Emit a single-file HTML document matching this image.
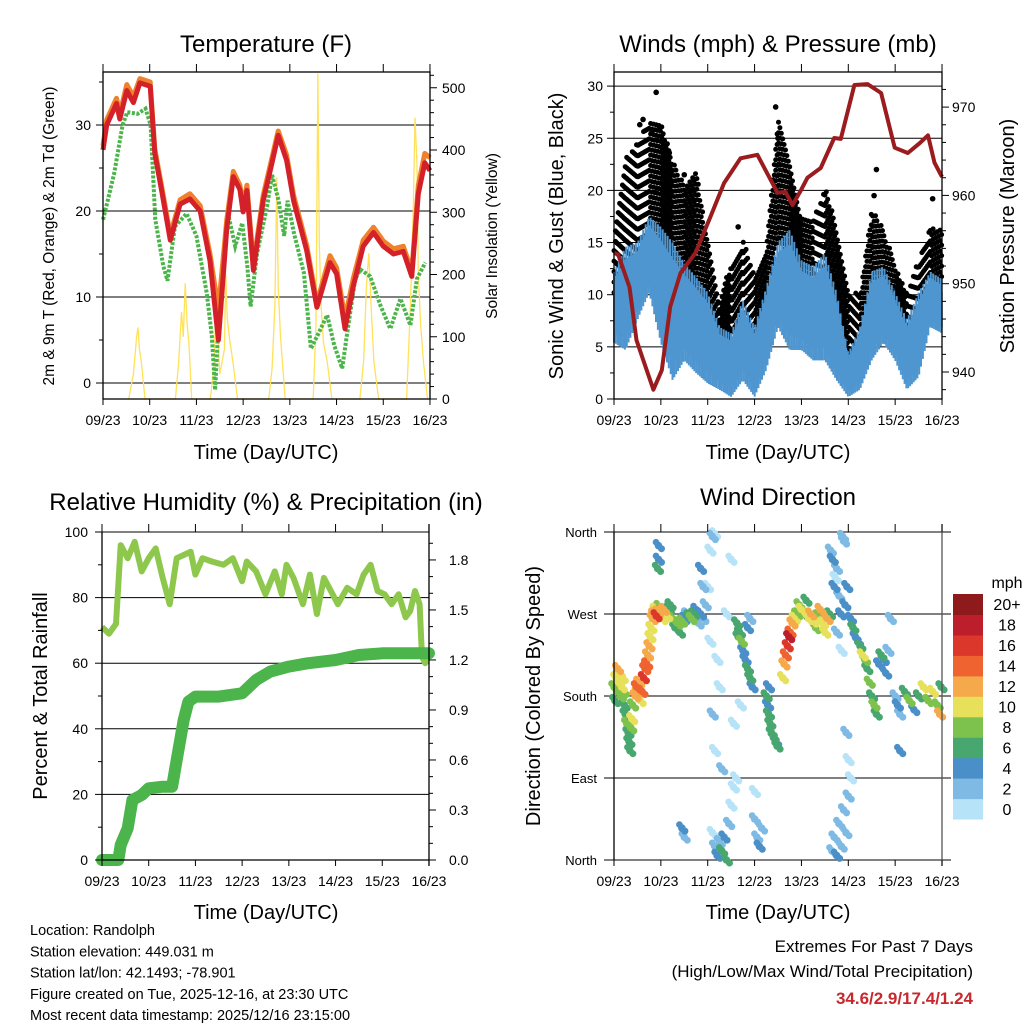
<!DOCTYPE html>
<html><head><meta charset="utf-8"><style>
html,body{margin:0;padding:0;background:#fff;}
svg{display:block;font-family:"Liberation Sans",Arial,sans-serif;}
</style></head><body>
<svg id="c" width="1024" height="1024" viewBox="0 0 1024 1024" xmlns="http://www.w3.org/2000/svg"></svg>
<script>
// ---------- DATA ----------
const days = ["09/23","10/23","11/23","12/23","13/23","14/23","15/23","16/23"];
// Temperature (F)
const tT = [0,0.08,0.29,0.36,0.51,0.65,0.79,1.01,1.11,1.26,1.44,1.65,1.86,2.08,2.29,2.47,2.65,2.79,2.93,3.0,3.08,3.22,3.43,3.61,3.75,3.93,4.08,4.36,4.58,4.86,5.0,5.18,5.36,5.57,5.79,6.0,6.22,6.43,6.61,6.75,6.89,7.0];
const tRed = [27.1,30.0,32.5,30.7,34.0,32.6,34.9,34.5,26.7,22.2,16.6,20.8,21.4,20.0,14.2,5.0,18.0,24.0,22.5,19.9,22.4,13.1,21.2,25.4,28.8,25.9,21.2,15.4,8.8,14.0,12.7,6.3,11.3,15.9,17.5,15.9,15.0,15.3,12.4,22.0,25.6,24.7];
const tOrange = [27.6,30.6,33.1,31.3,34.7,33.3,35.4,35.0,27.2,22.7,17.2,21.3,22.0,20.6,15.0,8.5,19.0,24.6,23.0,20.5,23.0,13.8,21.8,26.0,29.3,26.5,21.8,16.0,9.3,14.8,13.4,7.5,12.2,16.6,18.1,16.5,15.6,15.9,13.0,23.0,26.7,26.2];
const tdT = [0,0.1,0.24,0.42,0.52,0.74,0.91,1.02,1.12,1.29,1.38,1.54,1.79,2.0,2.22,2.33,2.4,2.51,2.69,2.83,2.98,3.09,3.16,3.3,3.51,3.62,3.76,3.88,3.95,4.09,4.3,4.45,4.59,4.8,4.95,5.12,5.22,5.4,5.51,5.72,5.94,6.15,6.37,6.58,6.72,6.9];
const tdV = [19,21.2,24.4,30,31.5,31.3,31.9,30,19,13.6,11.9,18.2,19.7,17.1,10.5,5.5,-0.8,10.5,19.4,15.9,18.6,13.6,8.9,15.1,20.5,24.2,21.2,17.1,21.2,17.4,12.8,4.0,5.5,7.9,4.4,1.7,5.5,12.1,13.2,12.4,9.0,6.3,9.8,6.7,12.1,14.0];
const solT = [0.55,0.65,0.72,0.75,0.78,0.82,0.9, 1.55,1.62,1.68,1.72,1.76,1.8,1.84,1.9, 2.3,2.38,2.42,2.5,2.6,2.63,2.66,2.72,2.78,2.88, 3.55,3.62,3.68,3.72,3.75,3.8,3.9, 4.5,4.56,4.6,4.63,4.67,4.72,4.8,4.9, 5.5,5.58,5.64,5.69,5.74,5.8,5.9, 6.5,6.58,6.64,6.68,6.72,6.75,6.8,6.86,6.95];
const solV = [0,40,100,115,80,60,0, 0,60,140,100,186,120,90,0, 0,60,160,40,80,200,130,90,60,0, 0,50,150,356,180,100,0, 0,120,523,250,150,90,60,0, 0,60,180,234,150,60,0, 0,150,300,452,380,200,120,60,0];
// Winds
const wT = [0,0.25,0.5,0.75,1.0,1.25,1.5,1.75,2.0,2.25,2.5,2.75,3.0,3.25,3.5,3.75,4.0,4.25,4.5,4.75,5.0,5.25,5.5,5.75,6.0,6.25,6.5,6.75,7.0];
const windHi = [12.2,14.6,15,17.5,16.5,15,13,11.7,10.2,6.9,6.3,9.5,6.9,10.7,15,16.2,13.3,12.7,14,10.2,4.4,6.9,12.2,12.7,10.2,7.6,10.2,12.2,11.5];
const windLo = [5.4,4.7,7.6,10.2,5.4,1.8,3.7,2.5,1.5,0.9,0.2,1.8,0.2,2.8,6.9,4.7,4.7,3.7,3.7,1.8,0.2,0.9,3.7,5.4,3.7,0.9,2.1,6.9,6.3];
const gustHi = [15.2,23.2,24.5,26.7,26.5,23,20.4,22,15.2,9.5,13.3,15.2,12.2,14.6,27.4,23,17.5,17,20.4,16.5,10.2,10.2,18.4,16.5,12.7,10.2,13.3,16.5,16.2];
const gustLo = [10.2,11.7,13.3,16.5,14.6,11.7,10.2,10.2,8.2,4.4,3.7,8.2,3.7,8.8,15.2,13.3,10.2,8.2,10.2,6.9,3.7,5,11.7,10.2,8.2,5.4,7.6,11.7,10.7];
const gustOutT = [0.9,0.55,0.62,0.8,0.97,1.18,3.45,3.5,3.52,5.55,5.6,1.5,2.65,6.8];
const gustOutV = [29.4,26.3,26.8,25.5,26,23.6,28,25,22.5,19.5,22,21.5,16.5,19.2];
const pT = [0,0.09,0.33,0.48,0.62,0.84,1.02,1.2,1.42,1.74,2.06,2.35,2.7,3.06,3.49,3.66,3.81,3.99,4.13,4.41,4.7,4.84,5.13,5.41,5.7,5.99,6.27,6.52,6.7,6.84,7.0];
const pV = [953.5,953.3,949.6,943.6,941.4,938,940.2,947.4,951.2,953.5,957.6,961.4,964.2,964.6,960.3,960.4,958.9,960.6,962,963.1,966.5,966.4,972.5,972.6,971.6,965.4,964.8,965.9,966.8,963.7,962.1];
// Relative humidity & precipitation
const rhT = [0,0.15,0.3,0.4,0.55,0.7,0.85,1.0,1.15,1.3,1.45,1.6,1.75,1.9,2.0,2.15,2.35,2.6,2.8,3.0,3.1,3.3,3.5,3.7,3.85,3.95,4.1,4.3,4.45,4.6,4.75,4.9,5.05,5.25,5.45,5.6,5.75,5.9,6.05,6.2,6.35,6.5,6.6,6.7,6.8,6.85,6.92,7.0];
const rhV = [71,69,72,96,92,97,88,92,95,86,78,92,93,94,87,92,91,90,92,85,91,88,81,88,81,90,86,78,87,75,86,82,78,83,81,87,90,82,81,78,81,74,76,82,78,62,60,63];
const prT = [0,0.35,0.4,0.55,0.65,0.85,1.0,1.3,1.5,1.6,1.75,1.85,2.0,2.5,3.0,3.3,3.6,4.0,4.4,5.0,5.5,6.0,7.0];
const prV = [0,0,0.09,0.19,0.36,0.39,0.43,0.44,0.44,0.6,0.84,0.95,0.98,0.98,1.0,1.08,1.13,1.16,1.18,1.2,1.23,1.24,1.24];
// Wind direction
const dirT = [0.0,0.02,0.04,0.06,0.08,0.1,0.12,0.14,0.16,0.18,0.2,0.22,0.24,0.27,0.3,0.32,0.34,0.36,0.38,0.4,0.45,0.48,0.5,0.53,0.56,0.6,0.63,0.66,0.7,0.72,0.75,0.77,0.79,0.82,0.85,0.88,0.9,0.93,0.96,1.0,1.03,1.06,1.1,1.13,1.16,1.2,1.25,0.95,0.95,0.93,1.3,1.35,1.4,1.45,1.5,1.55,1.6,1.65,1.7,1.75,1.8,1.85,1.9,1.95,2.0,2.05,2.1,2.15,1.85,1.9,2.05,2.1,2.15,2.2,2.25,2.3,2.4,2.5,2.55,2.6,2.7,2.1,2.15,2.2,2.25,2.3,2.35,2.4,2.45,2.5,2.55,1.45,1.5,3.0,3.05,3.1,3.15,3.0,2.62,2.65,2.68,2.72,2.75,2.8,2.85,2.9,2.95,2.85,2.9,3.25,3.28,3.3,3.33,3.36,3.4,3.45,3.48,3.3,3.6,3.63,3.66,3.7,3.73,3.76,3.8,3.85,3.9,3.95,4.0,4.05,4.1,4.15,4.2,4.25,4.3,4.35,4.4,4.45,4.5,4.55,4.6,4.62,4.66,4.7,4.72,4.75,4.8,4.84,4.88,4.9,4.93,4.97,4.75,4.85,4.65,4.7,4.75,4.8,4.85,4.9,4.95,5.0,5.05,5.0,4.95,5.05,5.1,5.15,5.2,5.25,5.3,5.35,5.4,5.45,5.5,5.55,5.6,5.65,5.7,5.75,5.8,5.85,5.9,6.0,6.05,6.1,6.2,6.3,6.4,6.5,6.6,6.7,6.8,6.9,6.95,6.98,6.1];
const dirDeg = [190,175,200,185,210,195,205,180,190,200,185,170,160,150,140,130,120,145,155,170,180,190,185,195,175,185,200,210,215,225,235,245,255,265,270,275,268,272,278,270,265,275,272,268,275,280,265,345,330,320,255,260,250,262,265,270,268,265,270,275,260,270,265,280,300,340,355,358,320,300,240,160,120,220,190,100,270,330,150,90,170,30,15,5,20,10,25,0,40,60,80,35,25,45,25,15,35,75,260,245,250,240,230,220,210,200,190,255,265,180,170,160,150,140,135,130,125,190,200,215,225,235,245,250,260,265,270,280,275,270,285,265,270,262,255,268,275,260,250,265,270,340,330,300,310,320,290,270,355,350,280,300,250,230,10,25,5,40,15,55,30,70,90,110,140,265,255,245,240,235,225,220,210,195,180,170,160,215,225,220,205,230,265,180,170,160,185,175,165,180,190,175,185,170,160,190,120];
const dirSpd = [8,7,10,9,12,11,10,9,10,11,8,7,7,8,7,6,6,9,10,9,13,14,12,13,10,15,16,14,15,13,12,11,10,12,13,11,16,12,9,10,11,12,8,10,7,6,8,4,4,6,6,8,6,9,4,3,6,8,7,4,2,5,3,2,1,1,2,1,4,2,1,2,1,0,1,2,1,1,0,1,1,1,3,4,2,6,5,6,2,1,1,4,2,3,2,4,3,1,7,7,6,8,5,4,6,7,5,4,3,6,5,6,7,6,6,5,7,4,10,12,14,16,18,14,12,10,9,8,10,7,6,11,12,10,9,8,12,10,11,13,7,2,4,4,1,3,3,4,3,2,5,4,2,1,3,2,4,2,2,2,3,2,1,1,3,4,6,5,4,7,10,9,7,8,7,8,6,5,6,4,4,3,2,3,4,2,6,8,5,7,10,9,11,8,12,6,4];
const cbLabels = ["0","2","4","6","8","10","12","14","16","18","20+"];
const cbColors = ["#b6e3f8","#7ebae3","#4a8fc7","#48a66f","#7dc24d","#e6e05b","#f6a94a","#ef6330","#dc372b","#bd1e2b","#8e1a1b"];

// ---------- HELPERS ----------
const svg = document.getElementById('c');
const NS = 'http://www.w3.org/2000/svg';
function mk(tag, attrs, parent){ const e=document.createElementNS(NS,tag); for(const k in attrs) e.setAttribute(k,attrs[k]); (parent||svg).appendChild(e); return e; }
function txt(s,x,y,size,anchor,parent,extra){ const e=mk('text',Object.assign({x:x,y:y,'font-size':size,'text-anchor':anchor||'middle',fill:'#000'},extra||{}),parent); e.textContent=s; return e; }
function interp(ts,vs,t){ if(t<=ts[0]) return vs[0]; for(let i=1;i<ts.length;i++){ if(t<=ts[i]){ const f=(t-ts[i-1])/(ts[i]-ts[i-1]); return vs[i-1]+f*(vs[i]-vs[i-1]); } } return vs[vs.length-1]; }
function pts(ts,vs,fx,fy){ return ts.map((t,i)=>fx(t).toFixed(1)+','+fy(vs[i]).toFixed(1)).join(' '); }
function spdColor(s){ let i=Math.floor(s/2); if(i<0)i=0; if(i>10)i=10; return cbColors[i]; }
function xAxis(g,fx,yb,ytop){
  days.forEach((d,i)=>{
    const x=fx(i);
    mk('line',{x1:x,y1:yb,x2:x,y2:yb+6,stroke:'#000','stroke-width':1},g);
    mk('line',{x1:x,y1:ytop,x2:x,y2:ytop-8,stroke:'#000','stroke-width':1},g);
    const t=txt(d,x,yb+26,14,'middle',g);
    
    
  });
}

// ---------- PANEL 1: TEMPERATURE ----------
(function(){
  const g=mk('g',{});  
  const L=103,R=430,T=72,B=399;
  const fx=d=>L+d*46.71, fy=v=>383-v*8.6, fs=v=>399-v*0.6225;
  [0,10,20,30].forEach(v=>mk('line',{x1:L,x2:R,y1:fy(v),y2:fy(v),stroke:'#000','stroke-width':1},g));
  const sol=mk('polyline',{points:pts(solT,solV,fx,fs),fill:'none',stroke:'#ffe15a','stroke-width':1.3},g);
   
  const td=mk('polyline',{points:pts(tdT,tdV,fx,fy),fill:'none',stroke:'#4bb44a','stroke-width':4,'stroke-dasharray':'3 1.6'},g);
   
  const o=mk('polyline',{points:pts(tT,tOrange,fx,fy),fill:'none',stroke:'#f0812c','stroke-width':5,'stroke-linejoin':'round'},g);
   
  const r=mk('polyline',{points:pts(tT,tRed,fx,fy),fill:'none',stroke:'#d42028','stroke-width':5,'stroke-linejoin':'round'},g);
   
  mk('rect',{x:L,y:T,width:R-L,height:B-T,fill:'none',stroke:'#000','stroke-width':1.3},g);
  for(let v=-0;v<=35;v+=5){ const y=fy(v); mk('line',{x1:L,x2:L-(v%10==0?7:4),y1:y,y2:y,stroke:'#000'},g); if(v%10==0) txt(String(v),L-12,y+5,14,'end',g); }
  for(let v=0;v<=520;v+=20){ const y=fs(v); if(y<T-1) continue; mk('line',{x1:R,x2:R+(v%100==0?7:4),y1:y,y2:y,stroke:'#000'},g); if(v%100==0) txt(String(v),R+12,y+5,14,'start',g); }
  xAxis(g,fx,B,T);
  const t1=txt('Temperature (F)',266,52,24,'middle',g);  
  const a=txt('Time (Day/UTC)',266,459,20,'middle',g);  
  const yl=txt('2m & 9m T (Red, Orange) & 2m Td (Green)',0,0,15.5,'middle',g,{transform:'translate(54,236) rotate(-90)'});  
  const yr=txt('Solar Insolation (Yellow)',0,0,15.5,'middle',g,{transform:'translate(497,236) rotate(-90)'});  
})();

// ---------- PANEL 2: WINDS & PRESSURE ----------
(function(){
  const g=mk('g',{});  
  const L=614,R=942,T=72,B=399;
  const fx=d=>L+d*46.86, fy=v=>399-v*10.43, fp=p=>372-(p-940)*8.83;
  [5,10,15,20,25,30].forEach(v=>mk('line',{x1:L,x2:R,y1:fy(v),y2:fy(v),stroke:'#000','stroke-width':1},g));
  const gg=mk('g',{fill:'#000'},g);  
  let k=0;
  for(let t=0;t<=7.0001;t+=0.03){
    const hi=fy(interp(wT,gustHi,t)), lo=fy(interp(wT,gustLo,t));
    const off=(k*7.3)%10.5; k++;
    for(let y=lo-off;y>=hi;y-=10.5){ mk('circle',{cx:fx(t).toFixed(1),cy:y.toFixed(1),r:2.5},gg); }
  }
  gustOutT.forEach((t,i)=>{ mk('circle',{cx:fx(t),cy:fy(gustOutV[i]),r:2.8},gg); });
  const wg=mk('g',{stroke:'#4f96d0','stroke-width':2},g);  
  let j=0;
  for(let t=0;t<=7.0001;t+=0.013){
    const hi=interp(wT,windHi,t), lo=interp(wT,windLo,t);
    const top = (j%4===0)? hi : (j%4===2 ? hi-(hi-lo)*0.25 : hi-(hi-lo)*0.12);
    const bot = (j%3===0)? lo : lo+(hi-lo)*0.12;
    j++;
    mk('line',{x1:fx(t).toFixed(1),x2:fx(t).toFixed(1),y1:fy(bot).toFixed(1),y2:fy(top).toFixed(1)},wg);
  }
  const p=mk('polyline',{points:pts(pT,pV,fx,fp),fill:'none',stroke:'#9a1c1f','stroke-width':4,'stroke-linejoin':'round'},g);
   
  mk('rect',{x:L,y:T,width:R-L,height:B-T,fill:'none',stroke:'#000','stroke-width':1.3},g);
  for(let v=0;v<=30;v+=2.5){ const y=fy(v); mk('line',{x1:L,x2:L-(v%5==0?7:4),y1:y,y2:y,stroke:'#000'},g); if(v%5==0) txt(String(v),L-11,y+5,14,'end',g); }
  for(let v=938;v<=974;v+=2){ const y=fp(v); if(y<T||y>B) continue; mk('line',{x1:R,x2:R+(v%10==0?7:4),y1:y,y2:y,stroke:'#000'},g); if(v%10==0) txt(String(v),R+10,y+5,14,'start',g); }
  xAxis(g,fx,B,T);
  const t1=txt('Winds (mph) & Pressure (mb)',778,52,24,'middle',g);  
  const a=txt('Time (Day/UTC)',778,459,20,'middle',g);  
  const yl=txt('Sonic Wind & Gust (Blue, Black)',0,0,20,'middle',g,{transform:'translate(563,236) rotate(-90)'});  
  const yr=txt('Station Pressure (Maroon)',0,0,20,'middle',g,{transform:'translate(1014,236) rotate(-90)'});  
})();

// ---------- PANEL 3: RH & PRECIP ----------
(function(){
  const g=mk('g',{});  
  const L=102,R=429,T=532,B=860;
  const fx=d=>L+d*46.71, fy=v=>860-v*3.28, fi=v=>860-v*166.7;
  [20,40,60,80,100].forEach(v=>mk('line',{x1:L,x2:R,y1:fy(v),y2:fy(v),stroke:'#000','stroke-width':1},g));
  const rh=mk('polyline',{points:pts(rhT,rhV,fx,fy),fill:'none',stroke:'#8dc84c','stroke-width':6,'stroke-linejoin':'round'},g);
   
  const pr=mk('polyline',{points:pts(prT,prV,fx,fi),fill:'none',stroke:'#4bb44a','stroke-width':12,'stroke-linejoin':'round','stroke-linecap':'round'},g);
   
  mk('line',{x1:L,x2:L,y1:T,y2:B,stroke:'#000','stroke-width':1.3},g);
  mk('line',{x1:R,x2:R,y1:T-8,y2:B+6,stroke:'#000','stroke-width':1.3},g);
  mk('line',{x1:L,x2:R,y1:B,y2:B,stroke:'#000','stroke-width':1.3},g);
  for(let v=0;v<=100;v+=10){ const y=fy(v); mk('line',{x1:L,x2:L-(v%20==0?7:4),y1:y,y2:y,stroke:'#000'},g); if(v%20==0) txt(String(v),L-14,y+5,14,'end',g); }
  for(let i=0;i<=19;i++){ const v=i/10; const y=fi(v); mk('line',{x1:R,x2:R+(i%3==0?7:4),y1:y,y2:y,stroke:'#000'},g); if(i%3==0) txt(v.toFixed(1),R+20,y+5,14,'start',g); }
  xAxis(g,fx,B,T);
  const t1=txt('Relative Humidity (%) & Precipitation (in)',266,510,24,'middle',g);  
  const a=txt('Time (Day/UTC)',266,919,20,'middle',g);  
  const yl=txt('Percent & Total Rainfall',0,0,20,'middle',g,{transform:'translate(47,696) rotate(-90)'});  
})();

// ---------- PANEL 4: WIND DIRECTION ----------
(function(){
  const g=mk('g',{});  
  const L=614,R=942,T=532,B=860;
  const fx=d=>L+d*46.86, fy=v=>860-v*0.911;
  const names=["North","East","South","West","North"];
  [0,90,180,270,360].forEach((v,i)=>{ const y=fy(v); mk('line',{x1:L-10,x2:R+9,y1:y,y2:y,stroke:'#000','stroke-width':1},g); txt(names[i],L-17,y+5,13,'end',g); });
  const dg=mk('g',{},g);  
  const order=dirT.map((t,i)=>i).sort((a,b)=>dirSpd[a]-dirSpd[b]);
  order.forEach(i=>{
    const x=fx(dirT[i]), y=fy(dirDeg[i]), c=spdColor(dirSpd[i]);
    mk('circle',{cx:x.toFixed(1),cy:y.toFixed(1),r:3.8,fill:c},dg);
    mk('circle',{cx:(x+3).toFixed(1),cy:(y+3).toFixed(1),r:3.5,fill:c},dg);
    mk('circle',{cx:(x-2.5).toFixed(1),cy:(y-3.5).toFixed(1),r:3.3,fill:c},dg);
  });
  mk('line',{x1:L,x2:L,y1:T,y2:B,stroke:'#000','stroke-width':1.3},g);
  mk('line',{x1:R,x2:R,y1:T-8,y2:B+6,stroke:'#555','stroke-width':1.3},g);
  xAxis(g,fx,B,T);
  const cb=mk('g',{},g);  
  const cbT=594,cbB=819,h=(cbB-cbT)/cbColors.length;
  cbColors.forEach((c,i)=>{ const y=cbB-(i+1)*h; mk('rect',{x:953,y:y.toFixed(1),width:30,height:(h+0.5).toFixed(1),fill:c},cb); txt(cbLabels[i],1007,y+h/2+6,16,'middle',cb); });
  txt('mph',1007,588,16,'middle',cb);
  const t1=txt('Wind Direction',778,505,24,'middle',g);  
  const a=txt('Time (Day/UTC)',778,919,20,'middle',g);  
  const yl=txt('Direction (Colored By Speed)',0,0,20,'middle',g,{transform:'translate(540,696) rotate(-90)'});  
})();

// ---------- FOOTER ----------
(function(){
  const g=mk('g',{});  
  ["Location: Randolph","Station elevation: 449.031 m","Station lat/lon: 42.1493; -78.901","Figure created on Tue, 2025-12-16, at 23:30 UTC","Most recent data timestamp: 2025/12/16 23:15:00"].forEach((s,i)=>txt(s,30,935+i*21.3,14.5,'start',g));
  const e=mk('g',{});  
  txt('Extremes For Past 7 Days',973,952,17,'end',e);
  txt('(High/Low/Max Wind/Total Precipitation)',973,977,17,'end',e);
  txt('34.6/2.9/17.4/1.24',973,1004,17,'end',e,{fill:'#c8282d','font-weight':'bold'});
})();
</script>
</body></html>
